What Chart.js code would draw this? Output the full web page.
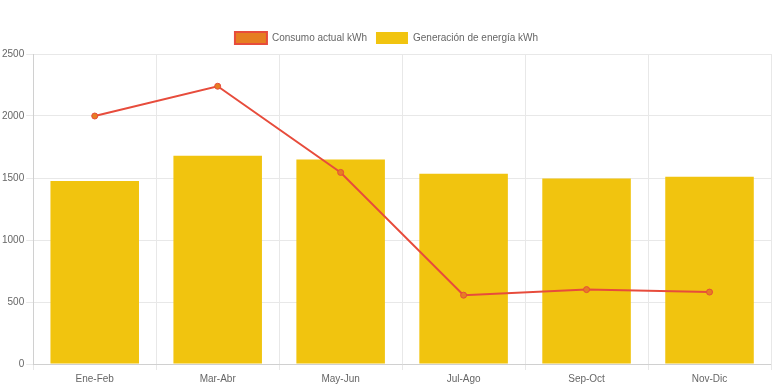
<!DOCTYPE html>
<html>
<head>
<meta charset="utf-8">
<script src="https://cdn.jsdelivr.net/npm/chart.js@4"></script>
<style>
    html, body { margin: 0; padding: 0; background: #fff; }
    #wrap { width: 776px; height: 388px; }
</style>
</head>
<body>
<div id="wrap"><canvas id="energyChart"></canvas></div>
<script>
// datos del gráfico
const periodos = ['Ene-Feb', 'Mar-Abr', 'May-Jun', 'Jul-Ago', 'Sep-Oct', 'Nov-Dic'];
const consumo = [2000, 2240, 1545, 555, 600, 580];
const generacion = [1475, 1680, 1650, 1535, 1495, 1510];
const yTicks = [0, 500, 1000, 1500, 2000, 2500];

Chart.defaults.font.family = "Arial, 'Liberation Sans', sans-serif";
Chart.defaults.font.size = 10;
Chart.defaults.color = '#666';

const ctx = document.getElementById('energyChart').getContext('2d');

new Chart(ctx, {
    type: 'bar',
    data: {
        labels: periodos,
        datasets: [{
            type: 'line',
            label: 'Consumo actual kWh',
            data: consumo,
            borderColor: '#e74c3c',
            backgroundColor: '#e67e22',
            borderWidth: 2,
            pointRadius: 3,
            pointBorderWidth: 1,
            tension: 0,
            fill: false
        }, {
            type: 'bar',
            label: 'Generación de energía kWh',
            data: generacion,
            backgroundColor: '#f1c40f',
            borderColor: '#f1c40f',
            borderWidth: 0
        }]
    },
    options: {
        responsive: true,
        maintainAspectRatio: false,
        animation: false,
        layout: { padding: { top: 23, right: 3 } },
        scales: {
            x: {
                grid: { color: '#e8e8e8', tickLength: 6 }
            },
            y: {
                min: 0,
                max: 2500,
                grid: { color: '#e8e8e8', tickLength: 7 },
                ticks: { padding: 2, callback: v => String(v) },
                afterBuildTicks: axis => { axis.ticks = yTicks.map(v => ({ value: v })); }
            }
        },
        plugins: {
            legend: {
                labels: { boxWidth: 32, boxHeight: 12, padding: 9 }
            }
        }
    }
});
</script>
</body>
</html>
